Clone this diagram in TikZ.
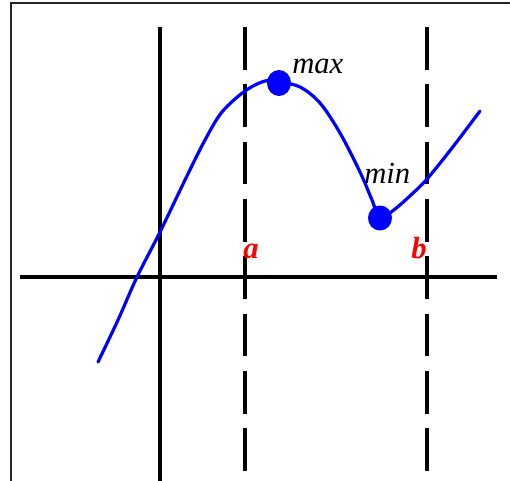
\documentclass[tikz,border=0pt]{standalone}
\usepackage{fontspec}
\setmainfont{Liberation Serif}
\begin{document}
\begin{tikzpicture}[x=0.75pt,y=-0.75pt,
  axis/.style={line width=2.3pt,black},
  guide/.style={line width=2.3pt,black,dash pattern=on 32pt off 11pt},
  curve/.style={line width=2.4pt,blue,line join=round,line cap=round},
  lbl/.style={inner sep=0pt,font=\fontsize{23}{27}\selectfont\itshape},
  ablbl/.style={inner sep=0pt,text=red,font=\fontsize{23}{27}\selectfont\bfseries\itshape}]
\useasboundingbox (0,0) rectangle (510,480);
\draw[line width=1.6pt,black!85] (11,490) -- (11,3) -- (520,3);
% axes
\coordinate (xl) at (20,277);
\coordinate (xr) at (497,277);
\coordinate (yt) at (160,27);
\coordinate (yb) at (160,485);
\draw[axis] (xl) -- (xr);
\draw[axis] (yt) -- (yb);
% dashed guides
\coordinate (at) at (245,27);
\coordinate (ab) at (245,485);
\coordinate (bt) at (427,27);
\coordinate (bb) at (427,485);
\draw[guide] (at) -- (ab);
\draw[guide] (bt) -- (bb);
% curve
\draw[curve] plot[smooth,tension=0.55] coordinates {(98,362) (118,320) (137,277) (160,232) (185,180) (205,140) (222,112) (245,91) (265,81) (279,82) (300,87) (320,103) (340,133) (360,172) (372,200) (380,218) (395,209) (412,194) (427,179) (452,148) (480,111)};
% extrema
\fill[blue] (279,83) ellipse [x radius=12, y radius=13];
\fill[blue] (380,218) ellipse [x radius=12, y radius=12.5];
\node[lbl,anchor=base west] (max) at (292,73) {max};
\node[lbl,anchor=base west] (min) at (364,183) {min};
\node[ablbl,anchor=base] (a) at (251,258) {a};
\node[ablbl,anchor=base] (b) at (419,258) {b};
\end{tikzpicture}
\end{document}
